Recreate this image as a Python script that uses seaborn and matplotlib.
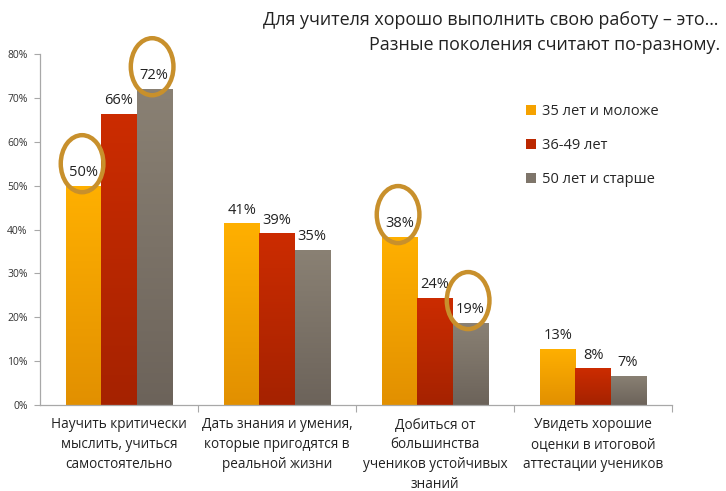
import numpy as np
import pandas as pd
import matplotlib
matplotlib.use("Agg")
import matplotlib.pyplot as plt
import seaborn as sns
from matplotlib.patches import Patch, Ellipse
from matplotlib.colors import to_rgb

categories = [
    "Научить критически\nмыслить, учиться\nсамостоятельно",
    "Дать знания и умения,\nкоторые пригодятся в\nреальной жизни",
    "Добиться от\nбольшинства\nучеников устойчивых\nзнаний",
    "Увидеть хорошие\nоценки в итоговой\nаттестации учеников",
]
groups = ["35 лет и моложе", "36-49 лет", "50 лет и старше"]
young = [50.0, 41.4, 38.4, 12.8]
middle = [66.4, 39.1, 24.4, 8.4]
older = [72.1, 35.4, 18.8, 6.7]
yticks = [0, 10, 20, 30, 40, 50, 60, 70, 80]
# circled labels: (category index, group index)
highlighted = [(0, 0), (0, 2), (2, 0), (2, 2)]

title_lines = ["Для учителя хорошо выполнить свою работу – это…",
               "Разные поколения считают по-разному."]

top_cols = ["#FFB000", "#CC2C00", "#8A8174"]
bot_cols = ["#E29000", "#A52200", "#6C635A"]
mid_cols = ["#F5A200", "#BC2800", "#7E756A"]

sns.set_theme(style="white")
plt.rcParams["font.family"] = ["Open Sans", "DejaVu Sans"]

rows = []
for g, vals in zip(groups, [young, middle, older]):
    for c, v in zip(categories, vals):
        rows.append({"cat": c, "grp": g, "val": v})
df = pd.DataFrame(rows)

fig = plt.figure(figsize=(7.26, 4.91), dpi=100)
ax = fig.add_axes([40 / 726, 86 / 491, 632 / 726, 351 / 491])

sns.barplot(data=df, x="cat", y="val", hue="grp", hue_order=groups,
            order=categories, palette=mid_cols, width=0.665, ax=ax,
            legend=False, errorbar=None, saturation=1)

info = {}
for p in list(ax.patches):
    w = p.get_width()
    cx = p.get_x() + w / 2
    ci = int(round(cx))
    gi = int(round((cx - ci) / w + 1))
    info[(ci, gi)] = p
    x0 = p.get_x()
    h = p.get_height()
    t = np.linspace(0, 1, 256)[:, None]
    c0 = np.array(to_rgb(bot_cols[gi]))
    c1 = np.array(to_rgb(top_cols[gi]))
    arr = (c0[None, None, :] * (1 - t[:, :, None]) + c1[None, None, :] * t[:, :, None])
    im = ax.imshow(arr, extent=[x0, x0 + w, 0, h], origin="lower",
                   aspect="auto", zorder=p.get_zorder() + 0.1, interpolation="bilinear")
    im.set_clip_path(p)
    ax.annotate(f"{h:.0f}%", (cx, h), xytext=(0, 4), textcoords="offset points",
                ha="center", va="bottom", fontsize=10.5, color="#222222", zorder=5)

for (ci, gi) in highlighted:
    p = info[(ci, gi)]
    cx = p.get_x() + p.get_width() / 2
    h = p.get_height()
    e = Ellipse((cx - 0.012, h + 5.0), width=0.27, height=13.0, fill=False,
                edgecolor="#C8902C", linewidth=3.2, zorder=6, clip_on=False)
    ax.add_patch(e)

ax.set_xlim(-0.5, 3.5)
ax.set_ylim(0, 80)
ax.set_yticks(yticks)
ax.set_yticklabels([f"{v}%" for v in yticks], fontsize=7.5, color="#333333")
ax.set_xticks(range(len(categories)))
ax.set_xticklabels(categories, fontsize=9.8, color="#222222", linespacing=1.45,
                   va="top")
ax.set_xticks([0.5, 1.5, 2.5, 3.5], minor=True)
ax.tick_params(axis="x", which="major", length=0, pad=9)
ax.tick_params(axis="x", which="minor", length=5, color="#A8A8A8", width=0.8,
               direction="out", bottom=True)
ax.tick_params(axis="y", length=4, color="#A8A8A8", width=0.8, direction="out",
               left=True, pad=5)
ax.set_xlabel("")
ax.set_ylabel("")
for s in ["top", "right"]:
    ax.spines[s].set_visible(False)
for s in ["left", "bottom"]:
    ax.spines[s].set_color("#A8A8A8")
    ax.spines[s].set_linewidth(0.9)

handles = [Patch(facecolor=c, edgecolor="none") for c in mid_cols]
ax.legend(handles, groups, loc="upper left", bbox_to_anchor=(0.748, 0.895),
          frameon=False, fontsize=10.5, handlelength=0.7, handleheight=0.7,
          handletextpad=0.4, labelspacing=1.3)

fig.text(718 / 726, 1 - 20 / 491, title_lines[0], ha="right", va="center",
         fontsize=12.9, color="#222222")
fig.text(720 / 726, 1 - 45 / 491, title_lines[1], ha="right", va="center",
         fontsize=12.9, color="#222222")

fig.savefig("out.png", dpi=100)
